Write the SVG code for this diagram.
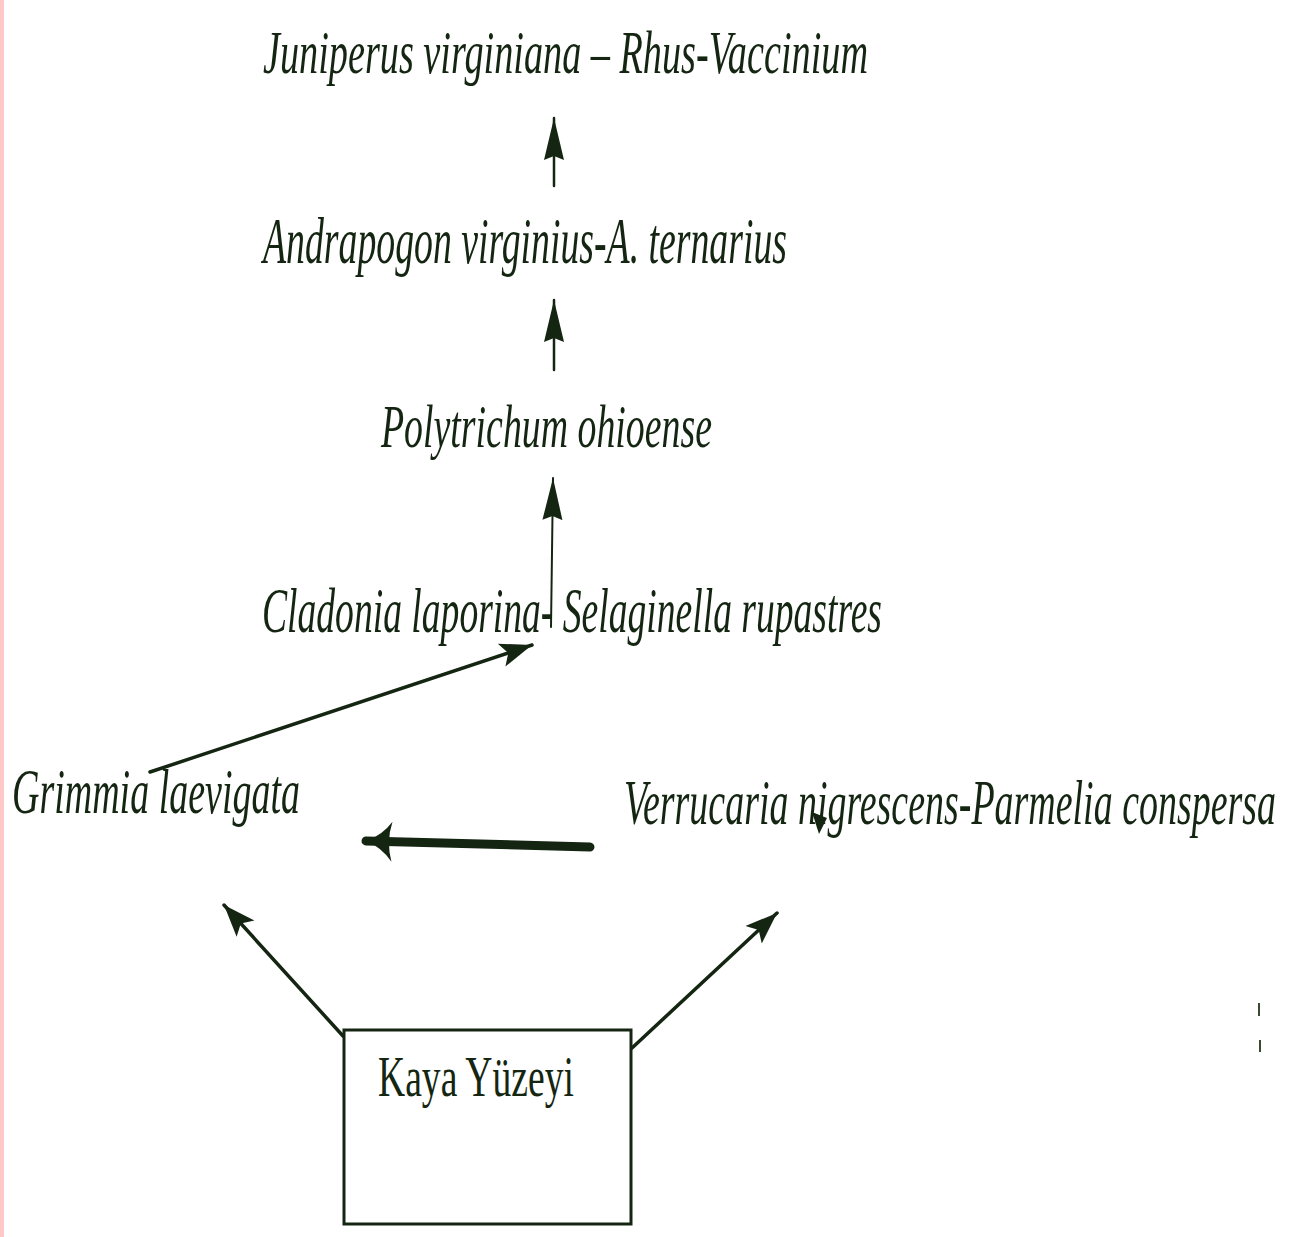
<svg xmlns="http://www.w3.org/2000/svg" width="1297" height="1237" viewBox="0 0 1297 1237">
<defs>
<style>
.lbl{font-family:"Liberation Serif","DejaVu Serif",serif;font-style:italic;fill:#142612}
.box{font-family:"Liberation Serif","DejaVu Serif",serif;fill:#142612}
.c{stroke:#142612;fill:none;stroke-linecap:round}
</style>
<marker id="tall" markerUnits="userSpaceOnUse" markerWidth="44" markerHeight="24" viewBox="0 0 44 24" refX="42" refY="12" orient="auto">
<path d="M0,2 L42,12 L0,22 L4,12 Z" fill="#142612"/>
</marker>
<marker id="std" markerUnits="userSpaceOnUse" markerWidth="34" markerHeight="28" viewBox="0 0 34 28" refX="32" refY="14" orient="auto">
<path d="M0,2 L32,14 L0,26 L7,14 Z" fill="#142612"/>
</marker>
<marker id="thick" markerUnits="userSpaceOnUse" markerWidth="30" markerHeight="44" viewBox="0 0 30 44" refX="28" refY="22" orient="auto">
<path d="M2,2 Q12,16 28,22 Q12,28 2,42 Q8,22 2,2 Z" fill="#142612"/>
</marker>
</defs>
<rect width="1297" height="1237" fill="#ffffff"/>
<rect x="0" y="0" width="4" height="1237" fill="#ffc8c8"/>
<g id="connectors">
<path class="c" d="M554,186 L554,118" stroke-width="2.5" marker-end="url(#tall)"/>
<path class="c" d="M554,370 L554,300" stroke-width="2.5" marker-end="url(#tall)"/>
<path class="c" d="M551,627 L553,478" stroke-width="2" marker-end="url(#tall)"/>
<path class="c" d="M150,772 L532,645" stroke-width="3.5" marker-end="url(#std)"/>
<path class="c" d="M590,847 L366,841" stroke-width="9" marker-end="url(#thick)"/>
<path class="c" d="M343,1036 L224,905" stroke-width="3.5" marker-end="url(#std)"/>
<path class="c" d="M632,1048 L777,913" stroke-width="3.5" marker-end="url(#std)"/>
</g>
<g id="n1"><text class="lbl" x="263" y="73" font-size="62" textLength="605" lengthAdjust="spacingAndGlyphs">Juniperus virginiana – Rhus-Vaccinium</text></g>
<g id="n2"><text class="lbl" x="263" y="263" font-size="66" textLength="524" lengthAdjust="spacingAndGlyphs">Andrapogon virginius-A. ternarius</text></g>
<g id="n3"><text class="lbl" x="381" y="447" font-size="62" textLength="331" lengthAdjust="spacingAndGlyphs">Polytrichum ohioense</text></g>
<g id="n4"><text class="lbl" x="262" y="632" font-size="64" textLength="620" lengthAdjust="spacingAndGlyphs">Cladonia laporina- Selaginella rupastres</text></g>
<g id="n5"><text class="lbl" x="12" y="813" font-size="63" textLength="288" lengthAdjust="spacingAndGlyphs">Grimmia laevigata</text></g>
<g id="n6"><text class="lbl" x="624" y="824" font-size="64" textLength="652" lengthAdjust="spacingAndGlyphs">Verrucaria nigrescens-Parmelia conspersa</text>
<path d="M812,812 L827,818 L819,834 Z" fill="#142612"/></g>
<g id="n7"><rect x="344" y="1030" width="287" height="194" fill="none" stroke="#142612" stroke-width="3"/>
<text class="box" x="378" y="1096" font-size="58" textLength="196" lengthAdjust="spacingAndGlyphs">Kaya Yüzeyi</text></g>
<g id="marks" stroke="#3a4a30" stroke-width="2">
<line x1="1259" y1="1003" x2="1259" y2="1016"/>
<line x1="1260" y1="1040" x2="1260" y2="1052"/>
</g>
</svg>
